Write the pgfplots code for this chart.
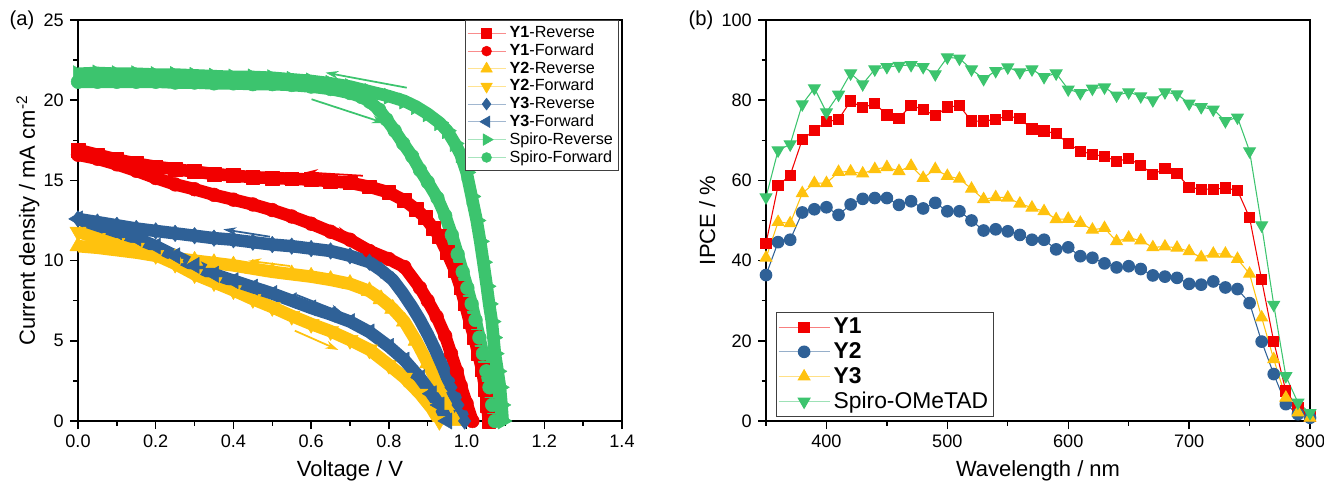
\documentclass[border=0pt]{standalone}
\usepackage{fontspec}
\setmainfont{Liberation Sans}
\usepackage{pgfplots}
\usepackage{pgfplotstable}
\pgfplotsset{compat=1.18}
\usetikzlibrary{arrows.meta}

\definecolor{cR}{HTML}{F20000}
\definecolor{cG}{HTML}{3CC46E}
\definecolor{cY}{HTML}{FFC20E}
\definecolor{cB}{HTML}{2F6197}

% IPCE spectra (b)
\pgfplotstableread{
wl   Y1    Y2    Y3    Sp
350  44.3  36.4  40.7  55.8
360  58.7  44.6  49.6  67.5
370  61.3  45.2  49.3  69.0
380  70.2  52.0  56.8  79.0
390  72.5  52.8  59.3  83.0
400  74.6  53.3  59.3  77.0
410  75.2  51.4  62.1  81.4
420  79.8  54.0  62.2  86.7
430  78.1  55.4  61.7  84.0
440  79.2  55.6  62.8  87.7
450  76.3  55.6  63.3  88.3
460  75.5  53.9  62.3  88.6
470  78.7  54.8  63.6  88.8
480  77.7  53.0  60.6  88.3
490  76.1  54.4  62.8  86.5
500  78.3  52.3  61.1  90.7
510  78.6  52.3  60.4  90.4
520  74.8  50.0  57.9  87.7
530  74.8  47.5  55.3  85.3
540  75.2  47.8  55.8  87.3
550  76.1  47.3  55.7  88.2
560  75.4  46.4  54.2  87.0
570  72.8  45.2  53.2  87.7
580  72.3  45.2  52.3  85.8
590  71.7  42.8  50.3  86.7
600  69.2  43.3  50.4  82.7
610  67.3  41.1  49.4  81.8
620  66.5  40.7  47.7  82.9
630  66.0  39.3  48.1  83.2
640  64.8  38.3  44.8  81.2
650  65.4  38.6  45.7  82.0
660  63.8  37.9  45.0  81.0
670  61.5  36.3  43.3  80.0
680  62.9  36.0  43.5  82.0
690  61.7  35.7  43.2  81.5
700  58.3  34.2  42.3  79.2
710  57.8  34.0  40.8  78.3
720  57.8  34.8  41.7  77.7
730  58.1  33.3  41.7  74.8
740  57.5  32.9  40.4  75.7
750  50.7  29.4  36.7  67.3
760  35.2  19.8  25.8  48.8
770  19.8  11.7  15.4  29.0
780   7.5   4.2   5.8  11.2
790   3.3   1.7   2.1   4.6
800   1.2   0.8   0.8   2.0
}\ipce

\pgfplotsset{
  panel/.style={
    scale only axis, width=108.8mm, height=80.2mm,
    axis line style={line width=0.9pt},
    every tick/.style={line width=0.8pt, black},
    major tick length=1.6mm, minor tick length=0.9mm,
    tick align=outside, xtick pos=left, ytick pos=left,
    /pgf/number format/assume math mode=true,
    ticklabel style={font=\fontsize{10.3}{12}\selectfont},
    label style={font=\fontsize{12.5}{14}\selectfont},
    xlabel style={at={(axis description cs:0.5,-0.125)}, anchor=center},
    legend cell align=left,
  },
  jv/.style={line width=2.5mm, line join=round, mark size=3.9pt},
  jvtri/.style={line width=2.5mm, line join=round, mark size=5.3pt},
}

\begin{document}
\begin{tikzpicture}
\useasboundingbox (0,0) rectangle (264.8mm,96.4mm);

\node[font=\fontsize{11.5}{13}\selectfont] at (4.4mm,92.4mm) {(a)};
\node[font=\fontsize{11.5}{13}\selectfont] at (140.2mm,92.4mm) {(b)};

% ---------- (a) J-V curves ----------
\begin{axis}[panel,
  at={(15.6mm,12.2mm)}, anchor=south west,
  xmin=0, xmax=1.4, ymin=0, ymax=25,
  xtick={0,0.2,0.4,0.6,0.8,1.0,1.2,1.4},
  ytick={0,5,10,15,20,25},
  minor x tick num=1, minor y tick num=1,
  xticklabel style={/pgf/number format/.cd, fixed, fixed zerofill, precision=1},
  xlabel={Voltage / V},
  ylabel={Current density / mA cm\textsuperscript{-2}},
  ylabel style={at={(axis description cs:-0.092,0.5)}, anchor=center},
  legend style={at={(0.994,1)}, anchor=north east, draw=black!75, line width=0.6pt,
    font=\fontsize{9.2}{10}\selectfont, row sep=-2pt, inner xsep=1pt, inner ysep=1.5pt},
  legend image code/.code={
    \draw[line width=0.6pt, draw opacity=0.45] (0mm,0mm) -- (7.6mm,0mm);
    \draw[line width=0.6pt, every mark/.append style={scale=0.72}] plot coordinates {(3.8mm,0mm)};
  },
]
\addplot[cR, jv, mark=square*, mark options={line width=0.3pt}] coordinates {
(0,16.9)(0.05,16.6)(0.1,16.3)(0.15,16.05)(0.2,15.85)(0.25,15.7)(0.3,15.55)
(0.35,15.4)(0.4,15.3)(0.45,15.2)(0.5,15.15)(0.55,15.1)(0.6,15.05)(0.65,14.95)
(0.7,14.85)(0.75,14.6)(0.8,14.25)(0.84,13.75)(0.87,13.2)(0.893,12.7)(0.915,12.0)
(0.93,11.5)(0.95,10.5)(0.97,9.4)(0.985,8.3)(0.996,7.3)(1.008,6.2)(1.02,5.2)
(1.03,4.2)(1.04,3.2)(1.048,2.0)(1.053,1.0)(1.057,0)};
\addlegendentry{\textbf{Y1}-Reverse}
\addplot[cR, jv, mark=*, mark options={line width=0.3pt}] coordinates {
(0,16.6)(0.05,16.35)(0.1,16.0)(0.15,15.6)(0.2,15.15)(0.25,14.75)(0.3,14.45)
(0.35,14.1)(0.4,13.8)(0.45,13.5)(0.5,13.15)(0.55,12.75)(0.6,12.3)(0.65,11.8)
(0.7,11.3)(0.75,10.6)(0.8,10.1)(0.84,9.6)(0.88,8.3)(0.9,7.5)(0.923,6.5)
(0.945,5.3)(0.96,4.2)(0.975,3.1)(0.985,2.2)(1.0,1.1)(1.015,0)};
\addlegendentry{\textbf{Y1}-Forward}
\addplot[cY, jvtri, mark=triangle*, mark options={line width=0.3pt}] coordinates {
(0,10.9)(0.05,10.8)(0.1,10.65)(0.15,10.5)(0.2,10.3)(0.25,10.15)(0.3,10.0)
(0.35,9.85)(0.4,9.7)(0.45,9.5)(0.5,9.3)(0.55,9.15)(0.6,9.0)(0.65,8.8)
(0.7,8.55)(0.75,8.1)(0.78,7.6)(0.81,7.0)(0.84,6.2)(0.87,5.0)(0.9,3.6)
(0.93,2.1)(0.95,1.0)(0.972,0)};
\addlegendentry{\textbf{Y2}-Reverse}
\addplot[cY, jvtri, mark=triangle*, mark options={line width=0.3pt, rotate=180}] coordinates {
(0,11.8)(0.05,11.4)(0.1,11.1)(0.15,10.8)(0.2,10.35)(0.25,9.8)(0.3,9.15)
(0.35,8.65)(0.4,8.15)(0.45,7.6)(0.5,7.1)(0.55,6.55)(0.6,6.05)(0.65,5.6)
(0.7,5.05)(0.75,4.45)(0.8,3.5)(0.84,2.7)(0.88,1.7)(0.91,0.8)(0.93,0)};
\addlegendentry{\textbf{Y2}-Forward}
\addplot[cB, jv, mark=diamond*, mark size=4.7pt, mark options={line width=0.3pt}] coordinates {
(0,12.6)(0.05,12.4)(0.1,12.2)(0.15,12.0)(0.2,11.85)(0.25,11.7)(0.3,11.55)
(0.35,11.4)(0.4,11.3)(0.45,11.15)(0.5,11.0)(0.55,10.9)(0.6,10.75)(0.65,10.6)
(0.7,10.3)(0.75,9.9)(0.78,9.4)(0.81,8.8)(0.835,8.0)(0.86,7.1)(0.88,6.3)
(0.9,5.4)(0.92,4.4)(0.94,3.3)(0.96,2.1)(0.978,1.0)(0.995,0)};
\addlegendentry{\textbf{Y3}-Reverse}
\addplot[cB, jvtri, mark=triangle*, mark options={line width=0.3pt, rotate=90}] coordinates {
(0,12.6)(0.05,12.2)(0.1,11.8)(0.15,11.4)(0.2,10.9)(0.25,10.3)(0.3,9.7)
(0.35,9.15)(0.4,8.75)(0.45,8.35)(0.5,7.95)(0.55,7.5)(0.6,7.05)(0.65,6.65)
(0.7,6.2)(0.75,5.55)(0.8,4.65)(0.84,3.8)(0.88,2.7)(0.91,1.7)(0.93,1.0)(0.95,0)};
\addlegendentry{\textbf{Y3}-Forward}
\addplot[cG, jvtri, mark=triangle*, mark options={line width=0.3pt, rotate=-90}] coordinates {
(0,21.65)(0.05,21.7)(0.1,21.65)(0.15,21.65)(0.2,21.6)(0.25,21.6)(0.3,21.55)
(0.35,21.5)(0.4,21.45)(0.45,21.45)(0.5,21.4)(0.55,21.3)(0.6,21.2)(0.65,21.05)
(0.7,20.85)(0.75,20.55)(0.8,20.25)(0.84,19.95)(0.87,19.6)(0.9,19.15)(0.93,18.6)
(0.95,18.1)(0.97,17.3)(0.985,16.6)(1.0,15.5)(1.013,14.0)(1.026,12.5)(1.035,11.2)
(1.043,9.9)(1.052,8.4)(1.058,7.3)(1.065,6.2)(1.069,5.2)(1.073,4.2)(1.08,3.1)
(1.086,2.1)(1.09,1.0)(1.093,0)};
\addlegendentry{Spiro-Reverse}
\addplot[cG, jv, mark=*, mark options={line width=0.3pt}] coordinates {
(0,21.15)(0.05,21.15)(0.1,21.15)(0.15,21.15)(0.2,21.15)(0.25,21.1)(0.3,21.1)
(0.35,21.05)(0.4,21.05)(0.45,21.0)(0.5,21.0)(0.55,20.95)(0.6,20.85)(0.65,20.7)
(0.7,20.45)(0.73,20.2)(0.751,19.9)(0.775,19.4)(0.794,18.8)(0.815,18.1)(0.837,17.3)
(0.86,16.5)(0.88,15.65)(0.9,14.9)(0.925,13.9)(0.945,12.8)(0.962,11.6)(0.977,10.4)
(0.99,9.3)(1.002,8.3)(1.013,7.3)(1.023,6.3)(1.033,5.2)(1.042,4.2)(1.051,3.1)
(1.059,2.1)(1.066,1.0)(1.073,0)};
\addlegendentry{Spiro-Forward}

% scan direction arrows
\draw[cG, line width=1pt, -{Stealth[length=2.6mm,width=1.6mm]}] (axis cs:0.846,20.78) -- (axis cs:0.637,21.72);
\draw[cG, line width=1pt, -{Stealth[length=2.6mm,width=1.6mm]}] (axis cs:0.601,20.06) -- (axis cs:0.79,18.56);
\draw[cR, line width=1pt, -{Stealth[length=2.6mm,width=1.6mm]}] (axis cs:0.733,15.29) -- (axis cs:0.584,15.5);
\draw[cR, line width=1pt, -{Stealth[length=2.6mm,width=1.6mm]}] (axis cs:0.567,12.74) -- (axis cs:0.70,11.6);
\draw[cB, line width=1pt, -{Stealth[length=2.6mm,width=1.6mm]}] (axis cs:0.494,11.49) -- (axis cs:0.374,11.95);
\draw[cB, line width=1pt, -{Stealth[length=2.6mm,width=1.6mm]}] (axis cs:0.563,7.86) -- (axis cs:0.683,6.71);
\draw[cY, line width=1pt, -{Stealth[length=2.6mm,width=1.6mm]}] (axis cs:0.546,9.66) -- (axis cs:0.438,9.99);
\draw[cY, line width=1pt, -{Stealth[length=2.6mm,width=1.6mm]}] (axis cs:0.558,5.63) -- (axis cs:0.67,4.43);
\end{axis}

% ---------- (b) IPCE ----------
\begin{axis}[panel,
  at={(153.2mm,12.2mm)}, anchor=south west,
  xmin=350, xmax=800, ymin=0, ymax=100,
  xtick={400,500,600,700,800},
  minor xtick={350,450,550,650,750},
  ytick={0,20,40,60,80,100},
  minor y tick num=1,
  xlabel={Wavelength / nm},
  ylabel={IPCE / \%},
  ylabel style={at={(axis description cs:-0.108,0.5)}, anchor=center},
  legend style={at={(0.018,0.01)}, anchor=south west, draw=black!75, line width=0.6pt,
    font=\fontsize{13}{14}\selectfont, row sep=-0.5pt, inner xsep=1pt, inner ysep=1pt},
  legend image code/.code={
    \draw[line width=0.6pt, draw opacity=0.5] (0mm,0mm) -- (10.2mm,0mm);
    \draw[line width=0.6pt] plot coordinates {(5.1mm,0mm)};
  },
]
\addplot[cR, line width=0.6pt, mark=square*, mark size=2.9pt] table[x=wl, y=Y1] {\ipce};
\addlegendentry{\textbf{Y1}}
\addplot[cB, line width=0.6pt, mark=*, mark size=3.3pt] table[x=wl, y=Y2] {\ipce};
\addlegendentry{\textbf{Y2}}
\addplot[cY, line width=0.6pt, mark=triangle*, mark size=3.8pt] table[x=wl, y=Y3] {\ipce};
\addlegendentry{\textbf{Y3}}
\addplot[cG, line width=0.6pt, mark=triangle*, mark size=3.8pt, mark options={rotate=180}] table[x=wl, y=Sp] {\ipce};
\addlegendentry{Spiro-OMeTAD}
\end{axis}
\end{tikzpicture}
\end{document}
